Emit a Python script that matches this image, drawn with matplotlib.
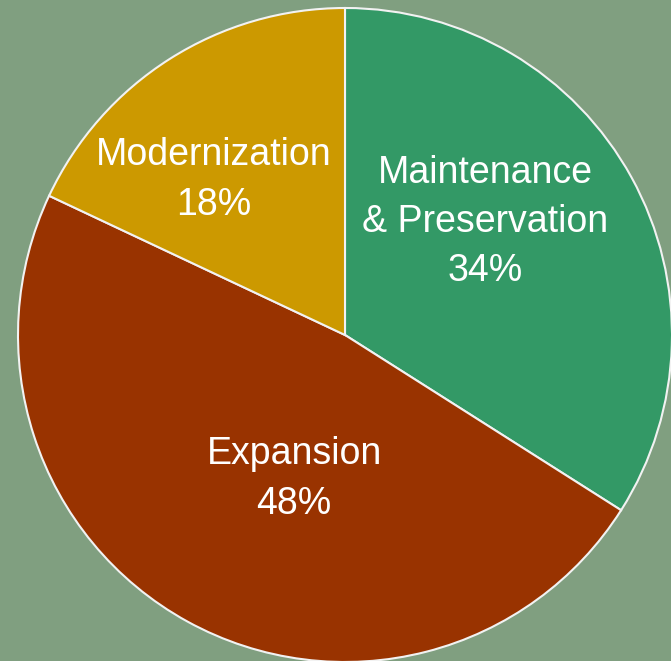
import matplotlib
matplotlib.use("Agg")
import matplotlib.pyplot as plt

categories = ["Maintenance\n& Preservation", "Expansion", "Modernization"]
values = [34, 48, 18]
colors = ["#339966", "#993300", "#CC9900"]
label_xy = [(485, 661 - 222), (294, 661 - 479), (214, 661 - 180)]

fig = plt.figure(figsize=(6.71, 6.61), dpi=100)
fig.patch.set_facecolor("#809f80")
ax = fig.add_axes([0, 0, 1, 1])
ax.set_facecolor("#809f80")

ax.pie(values, colors=colors, startangle=90, counterclock=False,
       center=(345, 661 - 335), radius=327, frame=True,
       wedgeprops=dict(edgecolor="#f2f2f2", linewidth=1.5))
ax.set_xlim(0, 671)
ax.set_ylim(0, 661)
ax.set_aspect("equal")
ax.axis("off")

for cat, v, (x, y) in zip(categories, values, label_xy):
    ax.text(x, y, f"{cat}\n{v}%", ha="center", va="center", color="white",
            fontsize=27, family=["Liberation Sans", "DejaVu Sans"],
            linespacing=1.48)

fig.savefig("out.png", dpi=100, facecolor=fig.get_facecolor())
